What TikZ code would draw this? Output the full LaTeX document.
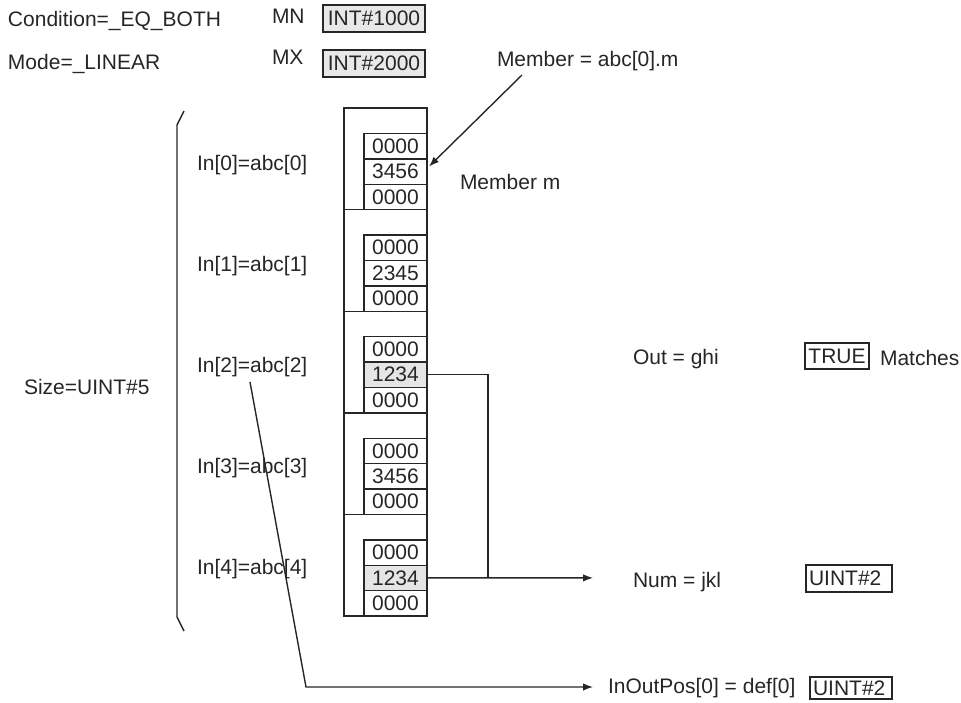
\documentclass[tikz,border=0pt]{standalone}
\usepackage{fontspec}
\setmainfont{Liberation Sans}
\usetikzlibrary{arrows.meta,calc}
\begin{document}
\begin{tikzpicture}[x=1pt,y=-1pt,
  every node/.style={inner sep=0pt, outer sep=0pt, font=\fontsize{21}{25}\selectfont, text=black!85},
  lbl/.style={anchor=west},
  ln/.style={line width=1.4pt, draw=black!85},
  rowbox/.style={draw=black!85, line width=1.4pt, minimum width=63pt, minimum height=25.4pt, anchor=north west},
  secbox/.style={draw=black!85, line width=1.4pt, minimum width=83pt, minimum height=101.6pt, anchor=north west},
  valbox/.style={draw=black!85, line width=1.4pt, anchor=north west},
  arr/.style={ln, -{Latex[length=10pt,width=7.5pt]}}
]
\useasboundingbox (0,0) rectangle (961,702);

% top labels
\node[lbl] (cond) at (8,21) {Condition=\_EQ\_BOTH};
\node[lbl] (mode) at (8,64) {Mode=\_LINEAR};
\node[lbl] (mnl) at (272,16) {MN};
\node[lbl] (mxl) at (272,57) {MX};
\node[valbox, fill=black!9, line width=1.7pt, minimum width=102pt, minimum height=27pt] (mn) at (323,5) {INT\#1000};
\node[valbox, fill=black!9, line width=1.7pt, minimum width=102pt, minimum height=27pt] (mx) at (323,50) {INT\#2000};
\node[lbl] (memt) at (497,61) {Member = abc[0].m};
\node[lbl] (memm) at (460,182) {Member m};

% size bracket
\node[lbl] (size) at (24,387) {Size=UINT\#5};
\draw[ln] (184,111) -- (177,125) -- (177,617) -- (184,631);

% stack
\foreach \k/\v/\f in {0/3456/white, 1/2345/white, 2/1234/black!10, 3/3456/white, 4/1234/black!10} {
  \pgfmathsetmacro\s{108+101.6*\k}
  \node[secbox] (sec\k) at (344,\s) {};
  \node[rowbox] (r\k0) at (364,\s+25.4) {0000};
  \node[rowbox, fill=\f] (r\k1) at (364,\s+50.8) {\v};
  \node[rowbox] (r\k2) at (364,\s+76.2) {0000};
  \node[lbl] (in\k) at (197,{165+101.1*\k}) {In[\k]=abc[\k]};
}

% member arrow
\coordinate (ma) at (522,75);
\draw[arr] (ma) -- ([shift={(2,-5)}]r01.east);

% right side outputs
\node[lbl] (out) at (633,359) {Out = ghi};
\node[valbox, minimum width=64pt, minimum height=26pt] (tru) at (805,343) {TRUE};
\node[lbl] (match) at (880,358) {Matches};
\node[lbl] (num) at (633,582) {Num = jkl};
\node[valbox, text width=80pt, inner xsep=3pt, align=left, minimum height=27pt] (numv) at (806,565) {UINT\#2};
\node[lbl] (iop) at (608,688) {InOutPos[0] = def[0]};
\node[valbox, text width=76pt, inner xsep=3pt, align=left, minimum height=22pt] (iopv) at (810,677) {UINT\#2};

% connectors
\coordinate (jn) at (488,577.9);
\coordinate (numtip) at (593,577.9);
\draw[ln] (r21.east) -| (jn);
\draw[arr] (r41.east) -- (numtip);

\coordinate (dstart) at (250,382);
\coordinate (dcorner) at (306,687);
\coordinate (ioptip) at (593,687);
\draw[arr] (dstart) -- (dcorner) -- (ioptip);
\end{tikzpicture}
\end{document}
